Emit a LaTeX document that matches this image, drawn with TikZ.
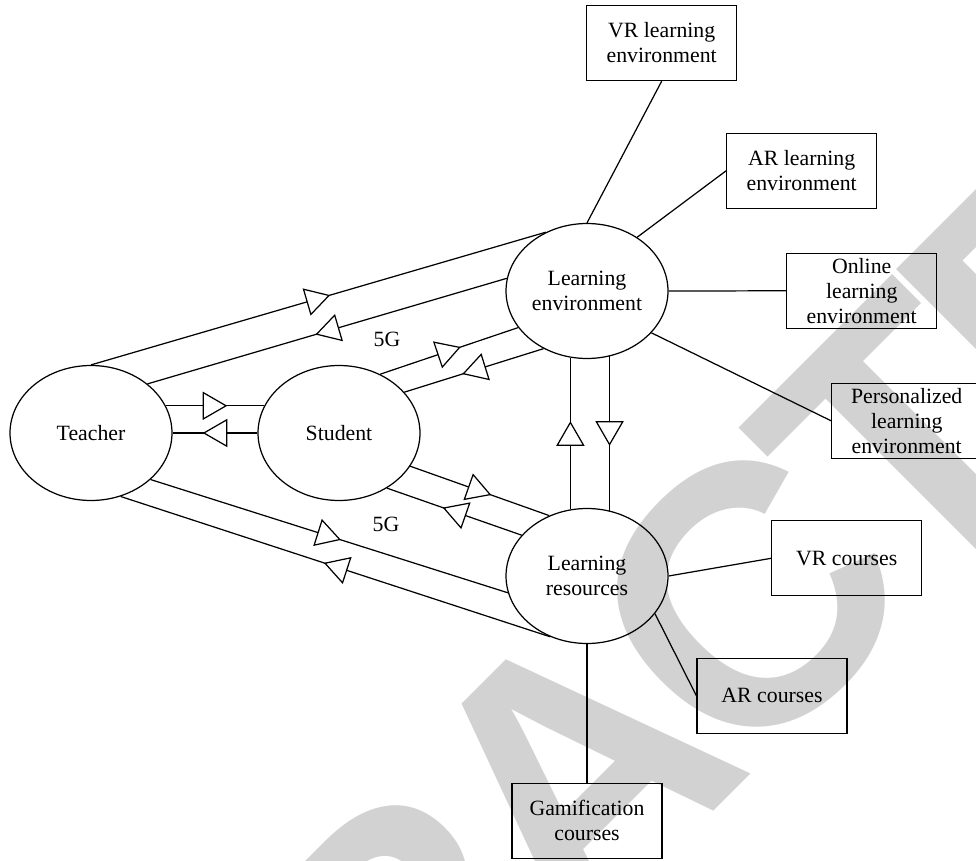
\documentclass[tikz,border=0pt]{standalone}
\usepackage{fontspec}
\setmainfont{Liberation Serif}
\newfontfamily\stampfont[LetterSpace=-6]{Liberation Sans}
\usetikzlibrary{shapes.geometric, arrows.meta, decorations.markings}

\tikzset{
	hub/.style={draw, ellipse, minimum width=3.24cm, minimum height=2.7cm, inner sep=0pt, align=center, font=\fontsize{12.4}{14.2}\selectfont},
	leaf/.style={draw, rectangle, minimum width=3cm, minimum height=1.5cm, inner sep=1pt, align=center, font=\fontsize{12.4}{14.2}\selectfont},
	flow/.style={postaction={decorate}, decoration={markings, mark=at position 0.5 with {\arrow[xshift=7pt]{Triangle[fill=white, length=14pt, width=16pt]}}}},
}

\begin{document}
\begin{tikzpicture}[x=0.02cm, y=-0.02cm, line width=0.7pt]
			\useasboundingbox (0,0) rectangle (976,861);
			% watermark
			\node[text=gray!35, rotate=45, inner sep=0pt] (stamp) at (574,772) {\stampfont\bfseries\fontsize{210}{210}\selectfont RETRACTED};
			% main nodes
			\node[hub] (teacher) at (91,433) {Teacher};
			\node[hub] (student) at (339,433) {Student};
			\node[hub] (le) at (587,291) {Learning\\environment};
			\node[hub] (lr) at (587,576) {Learning\\resources};
			% environments
			\node[leaf] (vrle) at (661.7,43) {VR learning\\environment};
			\node[leaf] (arle) at (801.7,170.8) {AR learning\\environment};
			\node[leaf] (onle) at (861.7,290.8) {Online\\learning\\environment};
			\node[leaf] (psle) at (906.7,420.8) {Personalized\\learning\\environment};
			% courses
			\node[leaf] (vrc) at (846.7,558.3) {VR courses};
			\node[leaf] (arc) at (772,695.8) {AR courses};
			\node[leaf] (gam) at (587,820.8) {Gamification\\courses};
			% 5G labels
			\node[font=\fontsize{12.4}{14.2}\selectfont] (g1) at (387,339) {5G};
			\node[font=\fontsize{12.4}{14.2}\selectfont] (g2) at (386,524) {5G};
			% teacher - student
			\draw[flow] (teacher.20) -- (student.160);
			\draw[flow] (student.west) -- (teacher.east);
			% teacher - environment / resources
			\draw[flow] (teacher.north) -- (le.125);
			\draw[flow] (le.171) -- (teacher.41);
			\draw[flow] (teacher.-38) -- (lr.192);
			\draw[flow] (lr.239) -- (teacher.-65);
			% student - environment / resources
			\draw[flow] (student.55) -- (le.208);
			\draw[flow] (le.233) -- (student.32);
			\draw[flow] (student.-25) -- (lr.122);
			\draw[flow] (lr.148) -- (student.-49);
			% environment - resources
			\draw[flow] (lr.104) -- (le.256);
			\draw[flow] (le.289) -- (lr.71);
			% leaves
			\draw (le.north) -- (vrle.south);
			\draw (le.47) -- (arle.west);
			\draw (le.east) -- (onle.west);
			\draw (le.-33) -- (psle.west);
			\draw (lr.east) -- (vrc.west);
			\draw (lr.-29) -- (arc.west);
			\draw (lr.south) -- (gam.north);
		\end{tikzpicture}
\end{document}
